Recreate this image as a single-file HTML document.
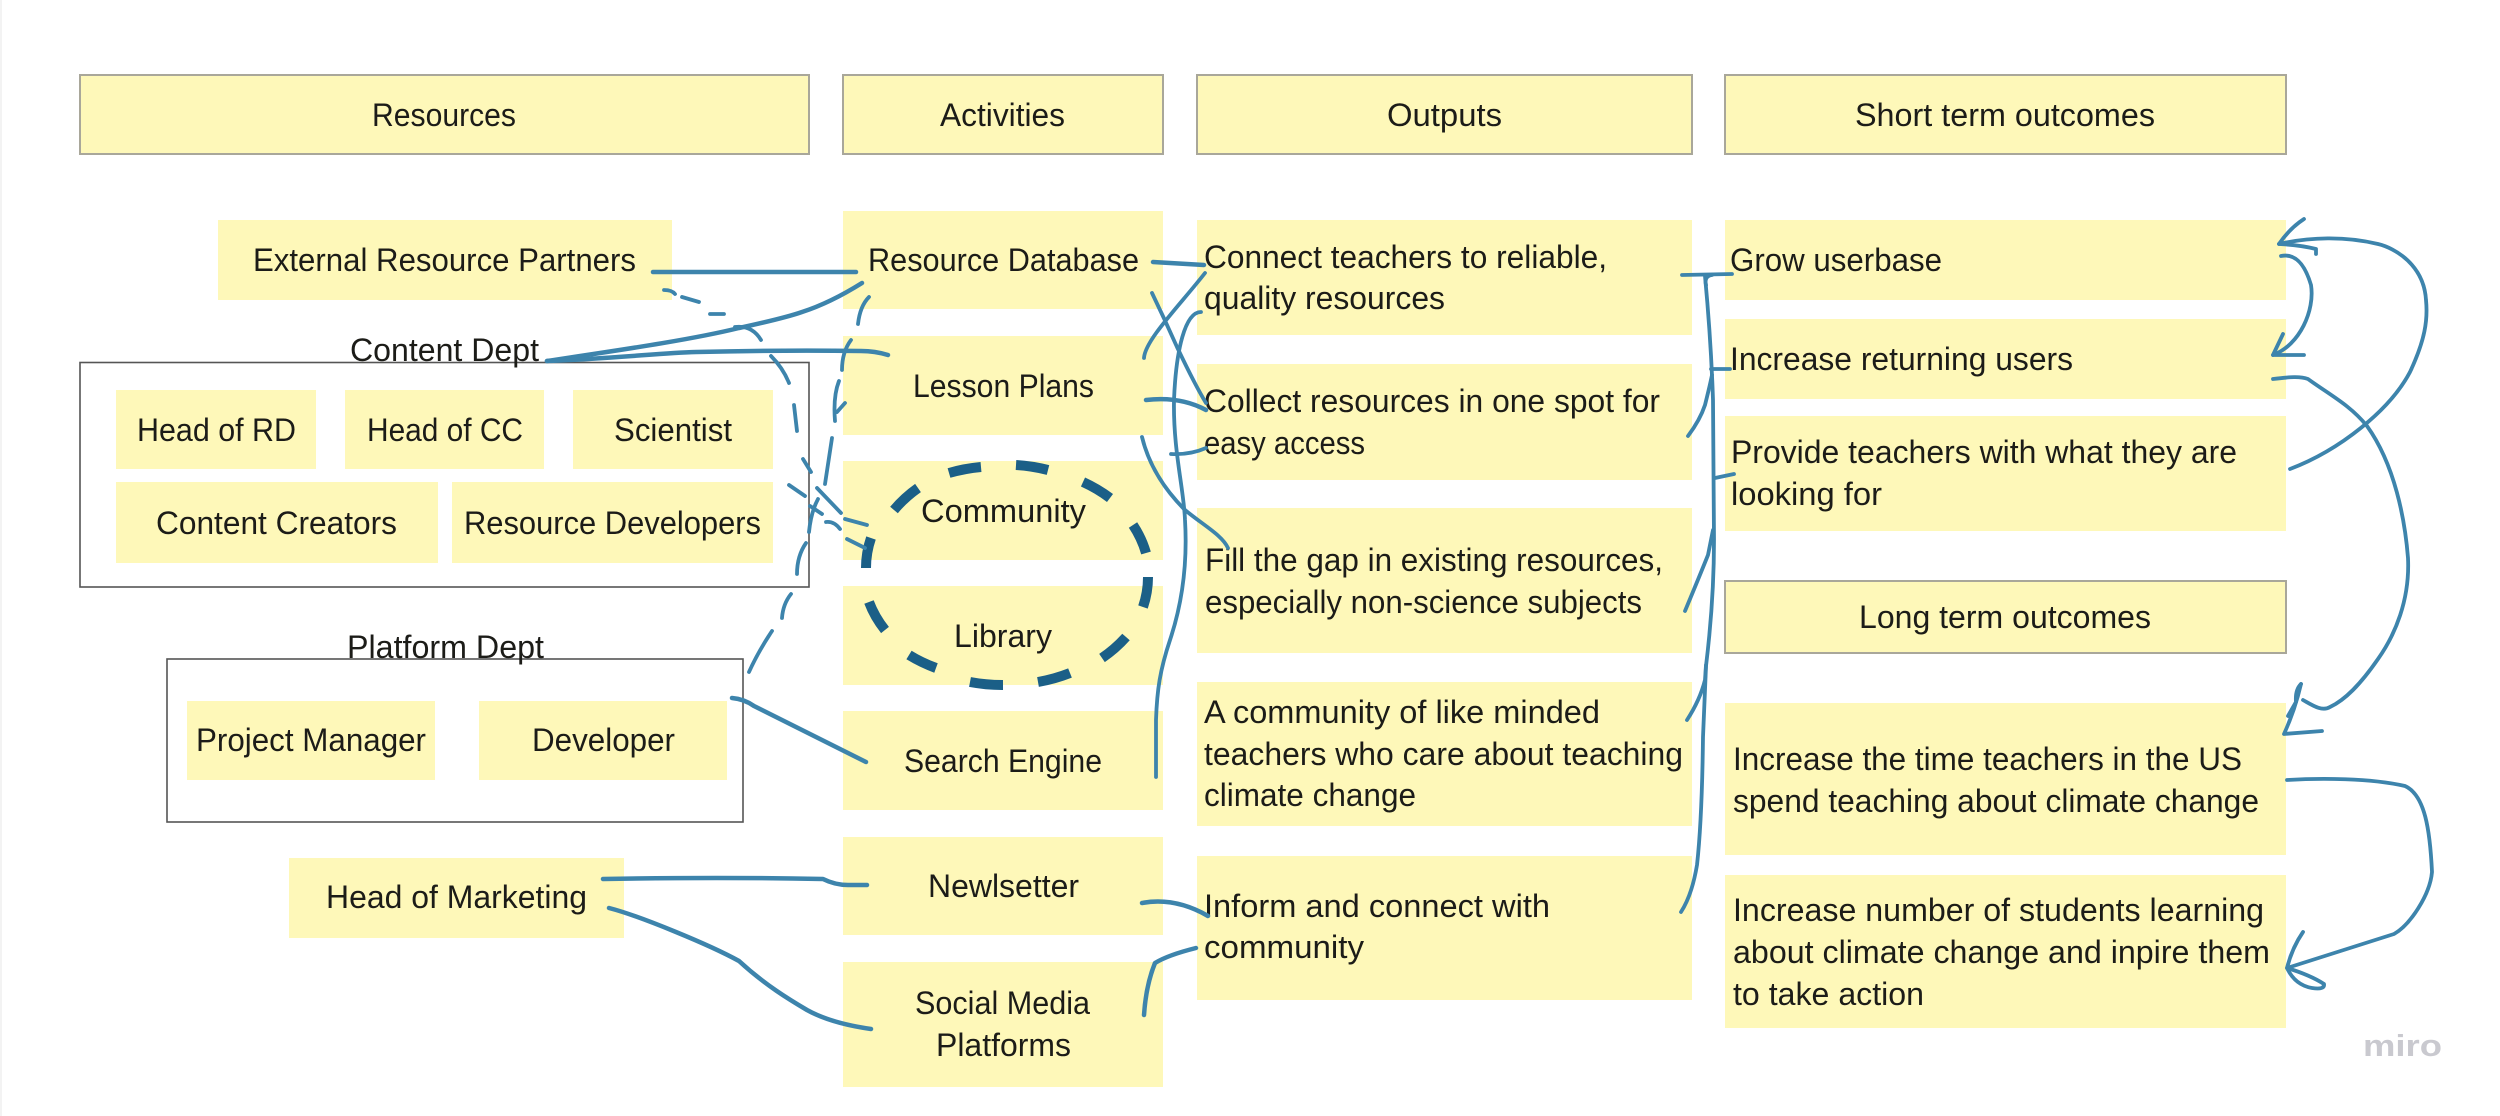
<!DOCTYPE html>
<html><head><meta charset="utf-8"><title>Logic model</title>
<style>
html,body{margin:0;padding:0;background:#fff;width:2500px;height:1116px;overflow:hidden}
svg{display:block}
.s{fill:#fef8b9}
.h{fill:#fef8b9;stroke:#a9a79a;stroke-width:2}
.b{fill:none;stroke:#555;stroke-width:1.6}
text{font-family:"Liberation Sans",sans-serif;font-size:32px;fill:#1c1c18}
.l path{fill:none;stroke:#3d84ac;stroke-width:4.5;stroke-linecap:round;stroke-linejoin:round}
.t path{stroke-width:3.8}
.e path{fill:none;stroke:#1b5f87;stroke-width:10}
</style></head><body>
<svg width="2500" height="1116" viewBox="0 0 2500 1116" xmlns="http://www.w3.org/2000/svg">
<rect width="2500" height="1116" fill="#fff"/>
<rect x="0" y="0" width="2" height="1116" fill="#f3f3f3"/>
<!-- headers -->
<rect class="h" x="80" y="75" width="729" height="79"/>
<rect class="h" x="843" y="75" width="320" height="79"/>
<rect class="h" x="1197" y="75" width="495" height="79"/>
<rect class="h" x="1725" y="75" width="561" height="79"/>
<rect class="h" x="1725" y="581" width="561" height="72"/>
<!-- dept boxes -->
<rect class="b" x="80" y="362.500" width="729" height="224.500"/>
<rect class="b" x="167" y="659" width="576" height="163"/>
<!-- resources -->
<rect class="s" x="218" y="220" width="454" height="80"/>
<rect class="s" x="116" y="390" width="200" height="79"/>
<rect class="s" x="345" y="390" width="199" height="79"/>
<rect class="s" x="573" y="390" width="200" height="79"/>
<rect class="s" x="116" y="482" width="322" height="81"/>
<rect class="s" x="452" y="482" width="321" height="81"/>
<rect class="s" x="187" y="701" width="248" height="79"/>
<rect class="s" x="479" y="701" width="248" height="79"/>
<rect class="s" x="289" y="858" width="335" height="80"/>
<!-- activities -->
<rect class="s" x="843" y="211" width="320" height="98"/>
<rect class="s" x="843" y="336" width="320" height="99"/>
<rect class="s" x="843" y="461" width="320" height="99"/>
<rect class="s" x="843" y="586" width="320" height="99"/>
<rect class="s" x="843" y="711" width="320" height="99"/>
<rect class="s" x="843" y="837" width="320" height="98"/>
<rect class="s" x="843" y="962" width="320" height="125"/>
<!-- outputs -->
<rect class="s" x="1197" y="220" width="495" height="115"/>
<rect class="s" x="1197" y="364" width="495" height="116"/>
<rect class="s" x="1197" y="508" width="495" height="145"/>
<rect class="s" x="1197" y="682" width="495" height="144"/>
<rect class="s" x="1197" y="856" width="495" height="144"/>
<!-- outcomes -->
<rect class="s" x="1725" y="220" width="561" height="80"/>
<rect class="s" x="1725" y="319" width="561" height="80"/>
<rect class="s" x="1725" y="416" width="561" height="115"/>
<rect class="s" x="1725" y="703" width="561" height="152"/>
<rect class="s" x="1725" y="875" width="561" height="153"/>
<!-- text -->
<g>
<text x="372" y="126" textLength="144" lengthAdjust="spacingAndGlyphs">Resources</text>
<text x="940" y="126" textLength="125" lengthAdjust="spacingAndGlyphs">Activities</text>
<text x="1387" y="126" textLength="115" lengthAdjust="spacingAndGlyphs">Outputs</text>
<text x="1855" y="126" textLength="300" lengthAdjust="spacingAndGlyphs">Short term outcomes</text>
<text x="253" y="271" textLength="383" lengthAdjust="spacingAndGlyphs">External Resource Partners</text>
<text x="350" y="361" textLength="189" lengthAdjust="spacingAndGlyphs">Content Dept</text>
<text x="137" y="441" textLength="159" lengthAdjust="spacingAndGlyphs">Head of RD</text>
<text x="367" y="441" textLength="156" lengthAdjust="spacingAndGlyphs">Head of CC</text>
<text x="614" y="441" textLength="118" lengthAdjust="spacingAndGlyphs">Scientist</text>
<text x="156" y="534" textLength="241" lengthAdjust="spacingAndGlyphs">Content Creators</text>
<text x="464" y="534" textLength="297" lengthAdjust="spacingAndGlyphs">Resource Developers</text>
<text x="347" y="658" textLength="197" lengthAdjust="spacingAndGlyphs">Platform Dept</text>
<text x="196" y="751" textLength="230" lengthAdjust="spacingAndGlyphs">Project Manager</text>
<text x="532" y="751" textLength="143" lengthAdjust="spacingAndGlyphs">Developer</text>
<text x="326" y="908" textLength="261" lengthAdjust="spacingAndGlyphs">Head of Marketing</text>
<text x="868" y="271" textLength="271" lengthAdjust="spacingAndGlyphs">Resource Database</text>
<text x="913" y="397" textLength="181" lengthAdjust="spacingAndGlyphs">Lesson Plans</text>
<text x="921" y="522" textLength="165" lengthAdjust="spacingAndGlyphs">Community</text>
<text x="954" y="647" textLength="98" lengthAdjust="spacingAndGlyphs">Library</text>
<text x="904" y="772" textLength="198" lengthAdjust="spacingAndGlyphs">Search Engine</text>
<text x="928" y="897" textLength="151" lengthAdjust="spacingAndGlyphs">Newlsetter</text>
<text x="915" y="1014" textLength="175" lengthAdjust="spacingAndGlyphs">Social Media</text>
<text x="936" y="1056" textLength="135" lengthAdjust="spacingAndGlyphs">Platforms</text>
<text x="1204" y="268" textLength="403" lengthAdjust="spacingAndGlyphs">Connect teachers to reliable,</text>
<text x="1204" y="309" textLength="241" lengthAdjust="spacingAndGlyphs">quality resources</text>
<text x="1204" y="412" textLength="456" lengthAdjust="spacingAndGlyphs">Collect resources in one spot for</text>
<text x="1204" y="454" textLength="161" lengthAdjust="spacingAndGlyphs">easy access</text>
<text x="1205" y="571" textLength="458" lengthAdjust="spacingAndGlyphs">Fill the gap in existing resources,</text>
<text x="1205" y="613" textLength="437" lengthAdjust="spacingAndGlyphs">especially non-science subjects</text>
<text x="1204" y="723" textLength="396" lengthAdjust="spacingAndGlyphs">A community of like minded</text>
<text x="1204" y="765" textLength="479" lengthAdjust="spacingAndGlyphs">teachers who care about teaching</text>
<text x="1204" y="806" textLength="212" lengthAdjust="spacingAndGlyphs">climate change</text>
<text x="1204" y="917" textLength="346" lengthAdjust="spacingAndGlyphs">Inform and connect with</text>
<text x="1204" y="958" textLength="160" lengthAdjust="spacingAndGlyphs">community</text>
<text x="1730" y="271" textLength="212" lengthAdjust="spacingAndGlyphs">Grow userbase</text>
<text x="1730" y="370" textLength="343" lengthAdjust="spacingAndGlyphs">Increase returning users</text>
<text x="1731" y="463" textLength="506" lengthAdjust="spacingAndGlyphs">Provide teachers with what they are</text>
<text x="1731" y="505" textLength="151" lengthAdjust="spacingAndGlyphs">looking for</text>
<text x="1859" y="628" textLength="292" lengthAdjust="spacingAndGlyphs">Long term outcomes</text>
<text x="1733" y="770" textLength="509" lengthAdjust="spacingAndGlyphs">Increase the time teachers in the US</text>
<text x="1733" y="812" textLength="526" lengthAdjust="spacingAndGlyphs">spend teaching about climate change</text>
<text x="1733" y="921" textLength="531" lengthAdjust="spacingAndGlyphs">Increase number of students learning</text>
<text x="1733" y="963" textLength="537" lengthAdjust="spacingAndGlyphs">about climate change and inpire them</text>
<text x="1733" y="1005" textLength="191" lengthAdjust="spacingAndGlyphs">to take action</text>
<text x="2363" y="1056" textLength="79" lengthAdjust="spacingAndGlyphs" style="fill:#c9c9cf;font-weight:bold;font-size:31px">miro</text>
</g>
<!-- dashed ellipse -->
<g class="e">
<path d="M949 473A141 113 0 0 1 981 467"/>
<path d="M1016 465A141 113 0 0 1 1048 470"/>
<path d="M1083 482A141 113 0 0 1 1110 498"/>
<path d="M1133 525A141 113 0 0 1 1146 553"/>
<path d="M1148 577A141 113 0 0 1 1143 607"/>
<path d="M1126 637A141 113 0 0 1 1102 658"/>
<path d="M1070 673A141 113 0 0 1 1038 682"/>
<path d="M1003 685A141 113 0 0 1 970 682"/>
<path d="M936 668A141 113 0 0 1 909 655"/>
<path d="M885 630A141 113 0 0 1 869 602"/>
<path d="M866 568A141 113 0 0 1 871 538"/>
<path d="M894 510A141 113 0 0 1 918 488"/>
</g>
<!-- solid connectors left -->
<g class="l">
<path d="M653 272L856 272"/>
<path d="M547 361C620 350 690 340 739 328Q785 318 802 312Q830 303 862 283"/>
<path d="M547 361C620 358 660 353 696 352Q780 350 861 351Q875 351 888 355"/>
<path d="M732 698Q744 699 754 706L866 762"/>
<path d="M603 879Q720 877 823 879Q835 885 848 885L867 885"/>
<path d="M609 908C640 916 710 945 739 961C765 985 790 1000 807 1010C825 1020 850 1026 871 1029"/>
<path d="M1153 262L1204 265"/>
<path d="M1146 400Q1180 396 1206 410"/>
<path d="M1142 903Q1175 897 1208 916"/>
<path d="M1144 1015Q1146 985 1155 963Q1168 955 1196 948"/>
</g>
<!-- dashes -->
<g class="l t">
<path d="M664 290Q672 290 675 294"/>
<path d="M682 297L699 302"/>
<path d="M710 314L724 314"/>
<path d="M735 327Q752 325 761 340"/>
<path d="M771 356Q783 368 789 383"/>
<path d="M794 405L797 431"/>
<path d="M803 459L811 472"/>
<path d="M817 488L841 513"/>
<path d="M845 519L867 525"/>
<path d="M789 485L805 496"/>
<path d="M810 506L822 514"/>
<path d="M826 522Q834 521 840 529"/>
<path d="M847 539L865 548"/>
<path d="M869 297Q860 306 858 324"/>
<path d="M851 340Q842 352 842 370"/>
<path d="M839 381Q833 396 835 421"/>
<path d="M845 403L837 412"/>
<path d="M832 438L825 484"/>
<path d="M818 499Q811 512 809 532"/>
<path d="M806 543Q797 556 797 574"/>
<path d="M791 594Q783 604 782 618"/>
<path d="M772 631Q758 652 749 672"/>
</g>
<!-- output side -->
<g class="l t">
<path d="M1205 273C1180 305 1145 340 1144 358"/>
<path d="M1152 293Q1165 320 1177 347Q1195 385 1206 403"/>
<path d="M1201 312C1185 312 1176 350 1174 400C1173 450 1184 490 1185 520C1188 570 1180 610 1170 640C1160 670 1157 690 1156 720L1156 777"/>
<path d="M1171 454Q1190 455 1206 448"/>
<path d="M1142 437C1150 470 1170 495 1185 510C1203 525 1222 535 1228 548"/>
<path d="M1682 275L1732 274"/>
<path d="M1706 285Q1704 276 1712 275"/>
<path d="M1705 276Q1711 340 1713 400L1714 540Q1714 600 1706 666L1703 737Q1702 820 1697 865Q1692 895 1681 912"/>
<path d="M1711 369L1730 369"/>
<path d="M1715 478L1734 474"/>
<path d="M1688 436Q1700 420 1705 405Q1710 385 1712 375"/>
<path d="M1685 611Q1700 575 1708 555L1713 530"/>
<path d="M1687 720Q1700 700 1705 680L1706 665"/>
<!-- outcome arrows -->
<path d="M2290 469C2340 450 2390 410 2410 372C2425 340 2428 320 2426 300C2424 265 2395 248 2378 244C2345 236 2310 237 2279 244"/>
<path d="M2304 219Q2290 228 2279 244Q2300 245 2316 249L2316 254"/>
<path d="M2281 256C2296 253 2305 265 2311 285C2315 310 2300 345 2273 355"/>
<path d="M2283 334L2273 355L2304 355"/>
<path d="M2273 379C2290 377 2300 376 2308 379C2330 395 2350 405 2367 426C2395 465 2405 520 2408 558C2410 600 2395 635 2378 659C2360 685 2345 700 2330 707C2322 712 2312 705 2303 700"/>
<path d="M2301 684Q2295 690 2296 702L2288 716"/>
<path d="M2301 684Q2295 710 2284 734L2322 731"/>
<path d="M2287 780C2320 778 2370 778 2405 786C2425 795 2430 830 2432 872C2430 895 2410 925 2394 934L2287 968"/>
<path d="M2303 932Q2292 948 2287 968Q2295 985 2312 988Q2325 990 2324 984Q2310 975 2287 968"/>
</g>
</svg>
</body></html>
